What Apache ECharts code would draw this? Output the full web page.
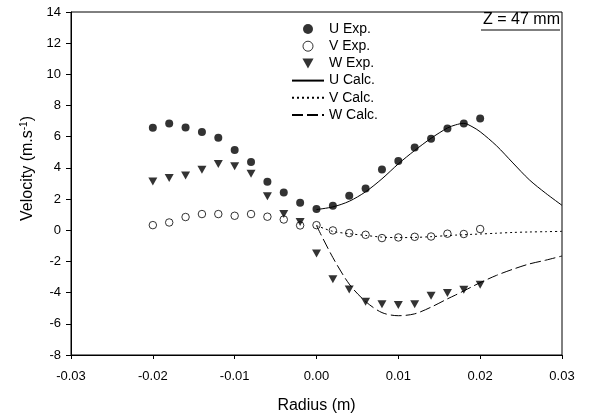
<!DOCTYPE html>
<html>
<head>
<meta charset="utf-8">
<script src="https://cdn.jsdelivr.net/npm/echarts@6/dist/echarts.min.js"></script>
<style>
html,body{margin:0;padding:0;background:#fff;}
#chart{width:592px;height:419px;}
</style>
</head>
<body>
<div id="chart"></div>
<script>
// ---- data ----
const radiusExp = [-0.020,-0.018,-0.016,-0.014,-0.012,-0.010,-0.008,-0.006,-0.004,-0.002,0.000,
                   0.002,0.004,0.006,0.008,0.010,0.012,0.014,0.016,0.018,0.020];
const uExp = [6.57,6.85,6.59,6.31,5.93,5.15,4.38,3.11,2.42,1.76,1.36,
              1.57,2.21,2.68,3.90,4.44,5.31,5.87,6.53,6.85,7.17];
const vExp = [0.33,0.50,0.85,1.04,1.04,0.93,1.04,0.87,0.69,0.31,0.33,
              -0.01,-0.18,-0.29,-0.50,-0.46,-0.42,-0.40,-0.22,-0.24,0.08];
const wExp = [3.13,3.35,3.52,3.88,4.25,4.10,3.63,2.19,1.04,0.53,-1.49,
              -3.14,-3.80,-4.58,-4.75,-4.80,-4.75,-4.20,-4.03,-3.81,-3.49];

const radiusCalc = [0.000,0.002,0.004,0.006,0.008,0.010,0.012,0.014,0.016,0.017,0.018,0.019,
                    0.020,0.022,0.024,0.026,0.028,0.030];
const uCalc = [1.33,1.50,1.86,2.47,3.30,4.26,5.12,5.90,6.56,6.76,6.86,6.65,
               6.32,5.42,4.32,3.24,2.38,1.60];
const vCalc = [0.30,-0.07,-0.22,-0.33,-0.44,-0.47,-0.46,-0.41,-0.34,-0.31,-0.29,-0.26,
               -0.24,-0.19,-0.14,-0.11,-0.09,-0.07];
const wCalc = [0.30,-1.75,-3.45,-4.57,-5.28,-5.48,-5.36,-4.93,-4.40,-4.15,-3.89,-3.62,
               -3.36,-2.89,-2.50,-2.16,-1.92,-1.65];

const xTicks = {min:-0.03, max:0.03, interval:0.01};
const yTicks = {min:-8, max:14, interval:2};
const seriesNames = ['U Exp.','V Exp.','W Exp.','U Calc.','V Calc.','W Calc.'];
const annotation = 'Z = 47 mm';

function pairs(xs, ys){ return xs.map((x,i)=>[x, ys[i]]); }

const FONT = '"Liberation Sans", Arial, sans-serif';
const chart = echarts.init(document.getElementById('chart'), null, {renderer:'canvas'});

function calcLine(name, xs, ys, dash){
  return {name:name, type:'line', data:pairs(xs,ys), symbol:'circle', showSymbol:false, smooth:0.3,
          lineStyle:{color:'#000', width:1, type:dash},
          itemStyle:{color:'rgba(0,0,0,0)', borderWidth:0}, z:3};
}

const option = {
  animation:false,
  backgroundColor:'#fff',
  textStyle:{fontFamily:FONT, color:'#000'},
  grid:{left:71, right:30, top:12, bottom:64, show:true, borderColor:'#000', borderWidth:1, backgroundColor:'transparent'},
  title:{text:annotation, right:32, top:12, padding:0,
         textStyle:{fontFamily:FONT, fontSize:16, fontWeight:'normal', color:'#000'}},
  graphic:[{type:'line', shape:{x1:481, y1:30, x2:560, y2:30}, style:{stroke:'#000', lineWidth:1}}],
  legend:{
    orient:'vertical', left:286, top:17, itemWidth:32, itemHeight:10, itemGap:3.2,
    data:seriesNames.map(n => n === 'V Exp.'
      ? {name:n, itemStyle:{borderWidth:1, borderColor:'#000', color:'rgba(255,255,255,0)'}}
      : n),
    textStyle:{fontFamily:FONT, fontSize:14, color:'#000'},
    inactiveColor:'#000'
  },
  xAxis:{
    type:'value', min:xTicks.min, max:xTicks.max, interval:xTicks.interval,
    axisLine:{onZero:false, lineStyle:{color:'#000', width:1}},
    axisTick:{inside:false, length:4, lineStyle:{color:'#000'}},
    axisLabel:{fontFamily:FONT, fontSize:13, color:'#000', margin:15,
      formatter:v=>(Math.abs(v)<1e-9?0:v).toFixed(2)},
    splitLine:{show:false},
    name:'Radius (m)', nameLocation:'middle', nameGap:43,
    nameTextStyle:{fontFamily:FONT, fontSize:16, color:'#000'}
  },
  yAxis:{
    type:'value', min:yTicks.min, max:yTicks.max, interval:yTicks.interval,
    axisLine:{onZero:false, lineStyle:{color:'#000', width:1}},
    axisTick:{inside:false, length:5, lineStyle:{color:'#000'}},
    axisLabel:{fontFamily:FONT, fontSize:13, color:'#000', margin:10},
    splitLine:{show:false},
    name:'Velocity (m.s{sup|-1})', nameLocation:'middle', nameGap:25,
    nameTextStyle:{fontFamily:FONT, fontSize:16, color:'#000', padding:[0,0,0,30],
      rich:{sup:{fontFamily:FONT, fontSize:10, color:'#000', verticalAlign:'top', padding:[0,0,6,0]}}}
  },
  series:[
    {name:seriesNames[0], type:'scatter', data:pairs(radiusExp,uExp), symbol:'circle', symbolSize:8,
     itemStyle:{color:'#000'}, z:5},
    {name:seriesNames[1], type:'scatter', data:pairs(radiusExp,vExp), symbol:'circle', symbolSize:7.5,
     itemStyle:{color:'rgba(255,255,255,0)', borderColor:'#000', borderWidth:1}, z:5},
    {name:seriesNames[2], type:'scatter', data:pairs(radiusExp,wExp), symbol:'path://M0,0L10,0L5,9Z', symbolSize:[9,8],
     itemStyle:{color:'#000'}, z:5},
    calcLine(seriesNames[3], radiusCalc, uCalc, 'solid'),
    calcLine(seriesNames[4], radiusCalc, vCalc, [2,3]),
    calcLine(seriesNames[5], radiusCalc, wCalc, [11,4])
  ]
};
chart.setOption(option);
</script>
</body>
</html>
